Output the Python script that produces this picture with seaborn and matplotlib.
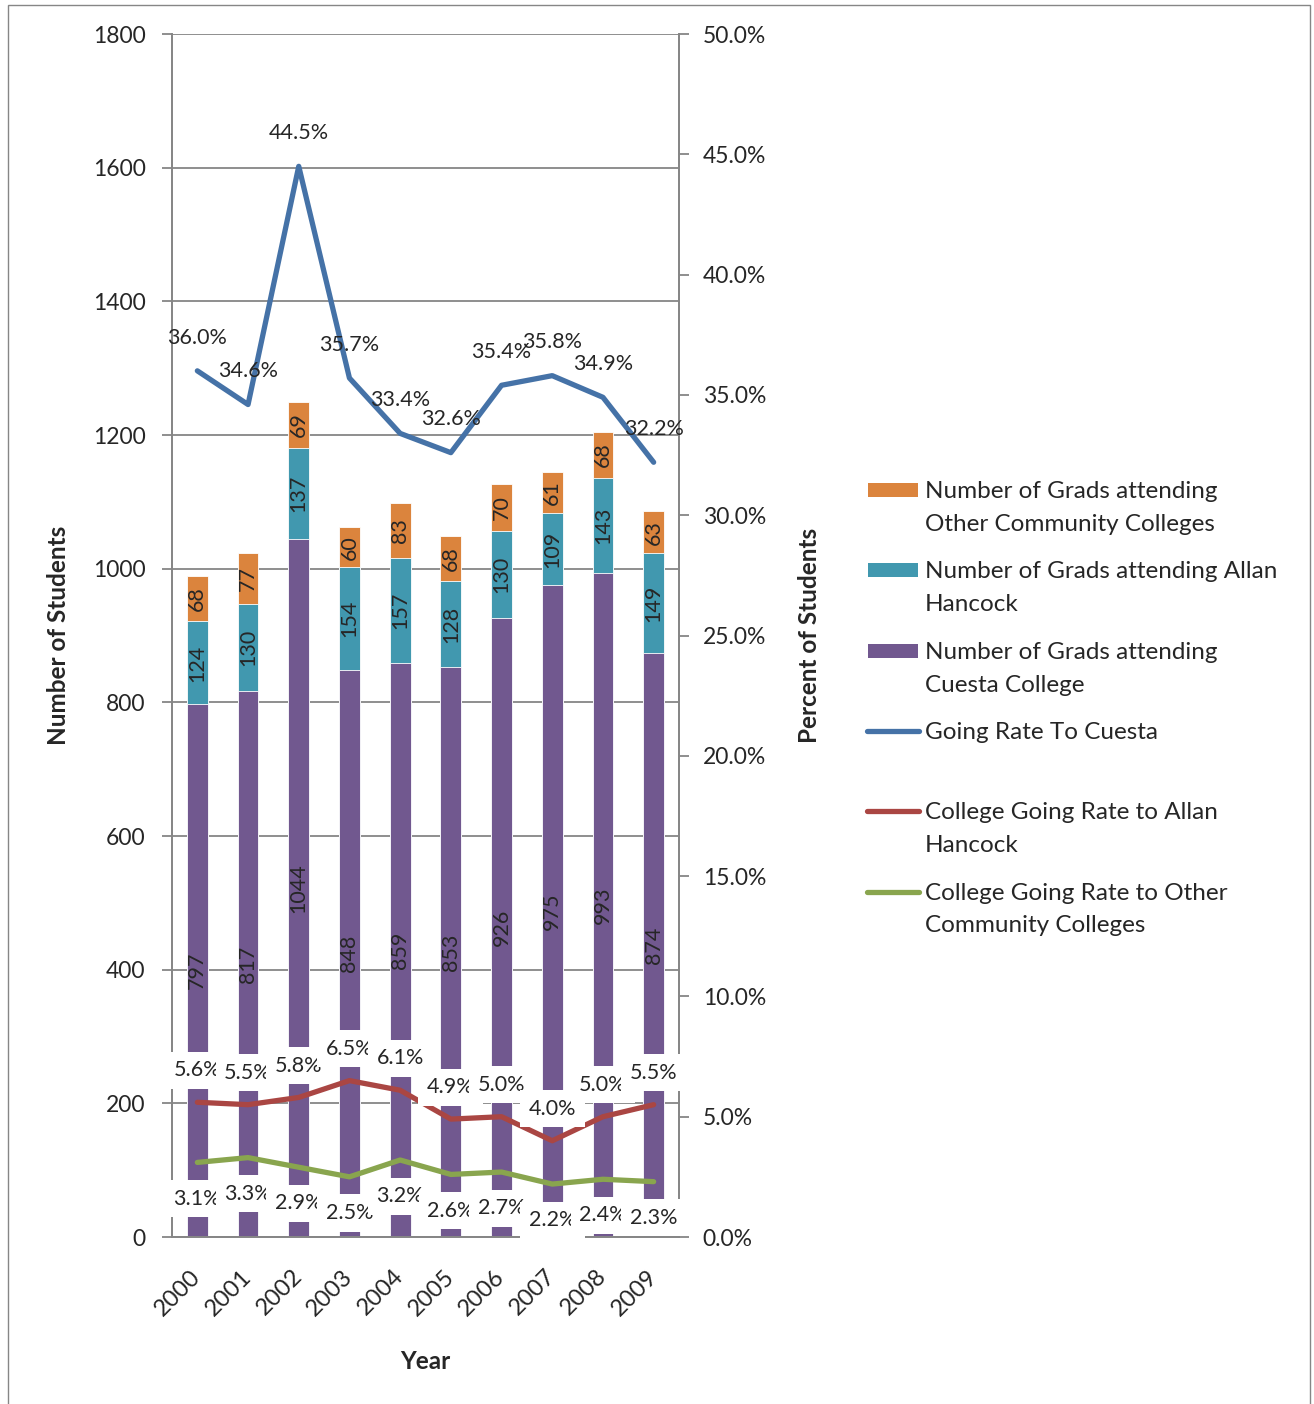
import numpy as np
import pandas as pd
import matplotlib
matplotlib.use('Agg')
import matplotlib.pyplot as plt
import seaborn as sns
from matplotlib.patches import Rectangle
from matplotlib.lines import Line2D
from matplotlib.ticker import FuncFormatter

# data
years = ['2000', '2001', '2002', '2003', '2004', '2005', '2006', '2007', '2008', '2009']
cuesta = [797, 817, 1044, 848, 859, 853, 926, 975, 993, 874]
hancock = [124, 130, 137, 154, 157, 128, 130, 109, 143, 149]
other = [68, 77, 69, 60, 83, 68, 70, 61, 68, 63]
rate_cuesta = [36.0, 34.6, 44.5, 35.7, 33.4, 32.6, 35.4, 35.8, 34.9, 32.2]
rate_hancock = [5.6, 5.5, 5.8, 6.5, 6.1, 4.9, 5.0, 4.0, 5.0, 5.5]
rate_other = [3.1, 3.3, 2.9, 2.5, 3.2, 2.6, 2.7, 2.2, 2.4, 2.3]

c_cuesta = '#71588F'
c_hancock = '#4198AF'
c_other = '#DB843D'
l_cuesta = '#4572A7'
l_hancock = '#AA4643'
l_other = '#89A54E'
grey = '#868686'

sns.set_theme(style='white')
plt.rcParams['font.family'] = ['Lato', 'DejaVu Sans']

df = pd.DataFrame({'Year': years, 'Cuesta': cuesta, 'Hancock': hancock, 'Other': other})
df['top_hancock'] = df['Cuesta'] + df['Hancock']
df['top_other'] = df['top_hancock'] + df['Other']

fig = plt.figure(figsize=(13.14, 14.04), dpi=100)
ax = fig.add_axes([172 / 1314, 1 - 1237 / 1404, 507 / 1314, 1203 / 1404])

# stacked bars: draw totals first, then cover with lower segments
bar_kw = dict(width=0.41, saturation=1, edgecolor='white', linewidth=0.6, ax=ax)
sns.barplot(data=df, x='Year', y='top_other', color=c_other, **bar_kw)
sns.barplot(data=df, x='Year', y='top_hancock', color=c_hancock, **bar_kw)
sns.barplot(data=df, x='Year', y='Cuesta', color=c_cuesta, **bar_kw)

for i in range(len(years)):
    ax.text(i, cuesta[i] / 2, str(cuesta[i]), rotation=90, ha='center', va='center', fontsize=15.5)
    ax.text(i, cuesta[i] + hancock[i] / 2, str(hancock[i]), rotation=90, ha='center', va='center',
            fontsize=15.5)
    ax.text(i, cuesta[i] + hancock[i] + other[i] / 2, str(other[i]), rotation=90,
            ha='center', va='center', fontsize=15.5)

ax.set_ylim(0, 1800)
ax.set_yticks(np.arange(0, 1801, 200))
ax.yaxis.grid(True, color=grey, lw=1.3)
ax.set_axisbelow(True)

# percent lines on the second axis
ax2 = ax.twinx()
xs = np.arange(len(years))
sns.lineplot(x=xs, y=rate_cuesta, ax=ax2, color=l_cuesta, lw=3.8, sort=False)
sns.lineplot(x=xs, y=rate_hancock, ax=ax2, color=l_hancock, lw=3.8, sort=False)
sns.lineplot(x=xs, y=rate_other, ax=ax2, color=l_other, lw=3.8, sort=False)
ax2.set_ylim(0, 50)
ax2.set_yticks(np.arange(0, 51, 5))
ax2.yaxis.set_major_formatter(FuncFormatter(lambda v, p: f'{v:.1f}%'))

box = dict(boxstyle='square,pad=0.4', fc='white', ec='none')
for i in range(len(years)):
    ax2.annotate(f'{rate_cuesta[i]:.1f}%', (i, rate_cuesta[i]), xytext=(0, 24),
                 textcoords='offset points', ha='center', va='center', fontsize=15.5)
    ax2.annotate(f'{rate_hancock[i]:.1f}%', (i, rate_hancock[i]), xytext=(0, 23),
                 textcoords='offset points', ha='center', va='center', fontsize=15.5, bbox=box)
    ax2.annotate(f'{rate_other[i]:.1f}%', (i, rate_other[i]), xytext=(0, -26),
                 textcoords='offset points', ha='center', va='center', fontsize=15.5, bbox=box)

# x axis: ticks at category edges, labels at centres
ax.set_xlim(-0.5, len(years) - 0.5)
ax.set_xticks(np.arange(-0.5, len(years), 1))
ax.set_xticklabels([])
ax.set_xticks(xs, minor=True)
ax.set_xticklabels(years, minor=True, rotation=45, ha='right', va='center', rotation_mode='anchor')
ax.tick_params(axis='x', which='minor', length=0, pad=26, labelsize=17)
ax.tick_params(axis='x', which='major', length=7, width=1.3, color=grey, direction='out')
ax.tick_params(axis='y', length=7, width=1.3, color=grey, direction='out', labelsize=16.5, pad=12)
ax2.tick_params(axis='y', length=7, width=1.3, color=grey, direction='out', labelsize=16.5, pad=10)

for a in (ax, ax2):
    a.spines['top'].set_visible(False)
    for s in ('left', 'right', 'bottom'):
        a.spines[s].set_color(grey)
        a.spines[s].set_linewidth(1.3)

ax.set_xlabel('Year', fontsize=17.5, fontweight='bold')
ax.set_ylabel('Number of Students', fontsize=17.5, fontweight='bold')
ax2.set_ylabel('Percent of Students', fontsize=17.5, fontweight='bold')
ax.xaxis.set_label_coords(0.499, -0.094)
ax.yaxis.set_label_coords(-0.201, 0.5)
ax2.yaxis.set_label_coords(1.235, 0.5)

# legend to the right, drawn by hand to keep handles on the first line
entries = [
    ('bar', c_other, 'Number of Grads attending\nOther Community Colleges'),
    ('bar', c_hancock, 'Number of Grads attending Allan\nHancock'),
    ('bar', c_cuesta, 'Number of Grads attending\nCuesta College'),
    ('line', l_cuesta, 'Going Rate To Cuesta'),
    ('line', l_hancock, 'College Going Rate to Allan\nHancock'),
    ('line', l_other, 'College Going Rate to Other\nCommunity Colleges'),
]
W, H = 1314, 1404
for k, (kind, col, lab) in enumerate(entries):
    yc = 490 + k * 80.3
    if kind == 'bar':
        fig.add_artist(Rectangle((868 / W, 1 - (yc + 7) / H), 50 / W, 14 / H,
                                 transform=fig.transFigure, fc=col, ec='none'))
    else:
        fig.add_artist(Line2D([867 / W, 919 / W], [1 - yc / H, 1 - yc / H], transform=fig.transFigure,
                              color=col, lw=3.8, solid_capstyle='round'))
    fig.text(925 / W, 1 - (yc - 9) / H, lab, ha='left', va='top', fontsize=17.5, linespacing=1.7)

# outer chart border
fig.add_artist(Rectangle((8 / W, -0.01), (1310 - 8) / W, 1.01 - 5 / H, transform=fig.transFigure,
                         fill=False, ec=grey, lw=1))

fig.savefig('out.png', dpi=100)
